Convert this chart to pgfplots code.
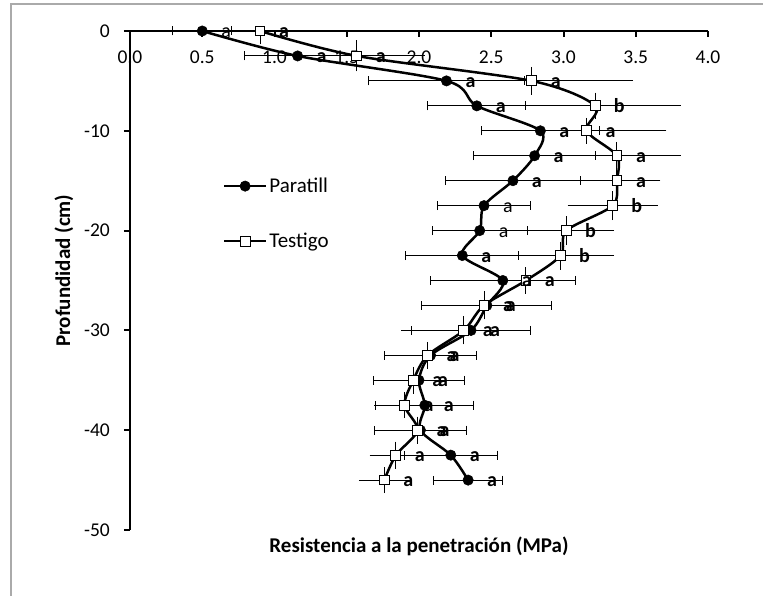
\documentclass[border=0pt]{standalone}
\usepackage{fontspec}
\setmainfont{Carlito}
\usepackage{pgfplots}
\pgfplotsset{compat=1.18}
\definecolor{framegray}{RGB}{170,170,170}
\begin{document}
\begin{tikzpicture}
\path[use as bounding box] (0pt,0pt) rectangle (763pt,-596pt);
\draw[framegray, line width=1.2pt] (11pt,-596pt) -- (11pt,-4pt) -- (763pt,-4pt);
\begin{axis}[
  at={(130pt,-31pt)}, anchor=north west,
  scale only axis, width=578pt, height=499pt,
  xmin=0, xmax=4, ymin=-50, ymax=0,
  clip=false,
  axis x line*=top, axis y line*=left,
  axis line style={line width=2pt, black},
  every tick/.style={line width=2pt, black},
  major tick length=6pt,
  xtick={0,0.5,1,1.5,2,2.5,3,3.5,4}, ytick={-50,-40,-30,-20,-10,0},
  minor tick num=0,
  xtick align=inside, ytick align=outside,
  /pgf/number format/assume math mode=true,
  tick label style={font=\fontsize{19.5}{23}\selectfont},
  xticklabel style={anchor=center, inner sep=0pt, yshift=-26pt},
  xticklabel={\pgfmathprintnumber[fixed,fixed zerofill,precision=1,assume math mode=true]{\tick}},
  yticklabel style={anchor=east, inner sep=0pt, xshift=-14pt},
  xlabel={Resistencia a la penetración (MPa)},
  xlabel style={at={(axis cs:2.0,-52.3)}, anchor=base, inner sep=0pt, font=\bfseries\fontsize{21}{25}\selectfont},
  ylabel={Profundidad (cm)},
  ylabel style={at={(axis cs:-0.415,-24.0)}, anchor=base, inner sep=0pt, font=\bfseries\fontsize{21}{25}\selectfont},
  legend style={at={(axis cs:0.6415,-18.3)}, anchor=west, draw=none, fill=none, inner sep=0pt, row sep=35pt, font=\fontsize{21}{25}\selectfont, cells={anchor=west}},
  legend image code/.code={\draw[#1, mark repeat=2, mark phase=2] plot coordinates {(0pt,0pt) (21pt,0pt) (42pt,0pt)};},
]
% Paratill
\addplot[black, line width=2.5pt, smooth, tension=0.5, mark=*, mark size=5.2pt,
  mark options={solid, fill=black, line width=0.5pt},
  error bars/.cd, x dir=both, x explicit,
  error bar style={line width=1pt, black}, error mark options={line width=1pt, mark size=4.5pt, rotate=90}]
coordinates {
(0.50,0) +- (0.205,0)
(1.16,-2.5) +- (0.37,0)
(2.19,-5) +- (0.54,0)
(2.40,-7.5) +- (0.34,0)
(2.84,-10) +- (0.41,0)
(2.80,-12.5) +- (0.42,0)
(2.65,-15) +- (0.465,0)
(2.45,-17.5) +- (0.32,0)
(2.42,-20) +- (0.33,0)
(2.30,-22.5) +- (0.39,0)
(2.58,-25) +- (0.50,0)
(2.47,-27.5) +- (0.45,0)
(2.36,-30) +- (0.41,0)
(2.08,-32.5) +- (0.32,0)
(2.00,-35) +- (0.315,0)
(2.04,-37.5) +- (0.34,0)
(2.01,-40) +- (0.32,0)
(2.22,-42.5) +- (0.32,0)
(2.34,-45) +- (0.24,0)
};
\addlegendentry{Paratill}
% Testigo
\addplot[black, line width=2.5pt, smooth, tension=0.5, mark=square*, mark size=4.9pt,
  mark options={solid, fill=white, draw=black, line width=1pt},
  error bars/.cd, x dir=both, x explicit, y dir=both, y explicit,
  error bar style={line width=1pt, black}, error mark options={line width=1pt, mark size=4.5pt}]
coordinates {
(0.90,0) += (0.32,0) -= (0.32,0.9)
(1.57,-2.5) +- (0.44,1.1)
(2.78,-5) +- (0.67,0.95)
(3.22,-7.5) +- (0.56,0.87)
(3.16,-10) +- (0.52,0.85)
(3.37,-12.5) +- (0.41,0.93)
(3.37,-15) +- (0.27,0.9)
(3.34,-17.5) +- (0.28,1.0)
(3.02,-20) +- (0.30,1.0)
(2.98,-22.5) +- (0.34,0.95)
(2.74,-25) +- (0.31,0.9)
(2.45,-27.5) +- (0.31,0.95)
(2.31,-30) +- (0.40,0.95)
(2.06,-32.5) +- (0.21,0.9)
(1.96,-35) +- (0.195,0.9)
(1.90,-37.5) +- (0.18,0.85)
(1.99,-40) +- (0.22,0.9)
(1.84,-42.5) +- (0.15,0.9)
(1.76,-45) +- (0.145,0.85)
};
\addlegendentry{Testigo}
% letters Paratill
\addplot[draw=none, mark=none, forget plot, point meta=explicit symbolic, nodes near coords,
  nodes near coords style={anchor=base, xshift=24pt, yshift=-6.5pt, inner sep=0pt, text=black, font=\fontsize{20}{23}\selectfont}]
coordinates {
(0.50,0) [a]
(1.16,-2.5) [\textbf{a}]
(2.19,-5) [\textbf{a}]
(2.40,-7.5) [\textbf{a}]
(2.84,-10) [\textbf{a}]
(2.80,-12.5) [\textbf{a}]
(2.65,-15) [\textbf{a}]
(2.45,-17.5) [a]
(2.42,-20) [a]
(2.30,-22.5) [\textbf{a}]
(2.58,-25) [\textbf{a}]
(2.47,-27.5) [\textbf{a}]
(2.36,-30) [\textbf{a}]
(2.08,-32.5) [\textbf{a}]
(2.00,-35) [\textbf{a}]
(2.04,-37.5) [\textbf{a}]
(2.01,-40) [\textbf{a}]
(2.22,-42.5) [\textbf{a}]
(2.34,-45) [\textbf{a}]
};
% letters Testigo
\addplot[draw=none, mark=none, forget plot, point meta=explicit symbolic, nodes near coords,
  nodes near coords style={anchor=base, xshift=24pt, yshift=-6.5pt, inner sep=0pt, text=black, font=\fontsize{20}{23}\selectfont}]
coordinates {
(0.90,0) [\textbf{a}]
(1.57,-2.5) [\textbf{a}]
(2.78,-5) [\textbf{a}]
(3.22,-7.5) [\textbf{b}]
(3.16,-10) [\textbf{a}]
(3.37,-12.5) [\textbf{a}]
(3.37,-15) [\textbf{a}]
(3.34,-17.5) [\textbf{b}]
(3.02,-20) [\textbf{b}]
(2.98,-22.5) [\textbf{b}]
(2.74,-25) [\textbf{a}]
(2.45,-27.5) [\textbf{a}]
(2.31,-30) [\textbf{a}]
(2.06,-32.5) [\textbf{a}]
(1.96,-35) [\textbf{a}]
(1.90,-37.5) [\textbf{a}]
(1.99,-40) [\textbf{a}]
(1.84,-42.5) [\textbf{a}]
(1.76,-45) [\textbf{a}]
};
\end{axis}
\end{tikzpicture}
\end{document}
